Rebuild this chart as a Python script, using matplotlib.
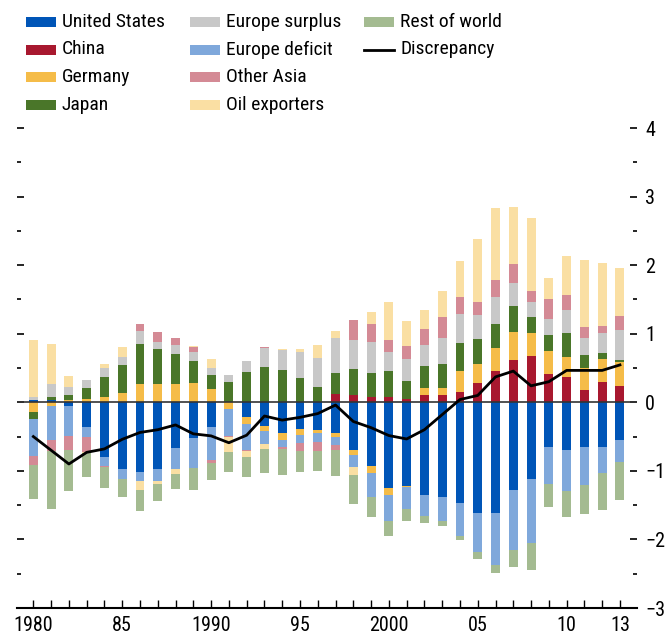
import matplotlib
matplotlib.use("Agg")
import matplotlib.pyplot as plt
import numpy as np
from matplotlib import font_manager
from matplotlib.patches import Rectangle
from matplotlib.lines import Line2D
from matplotlib.ticker import FixedLocator, MultipleLocator

# narrow font if there is one, otherwise Arial-like Liberation Sans a bit smaller
installed = {f.name for f in font_manager.fontManager.ttflist}
if 'Liberation Sans Narrow' in installed:
    plt.rcParams['font.family'] = ['Liberation Sans Narrow', 'DejaVu Sans']
    fs, fs_leg = 15, 14.5
elif 'Roboto Condensed' in installed:
    plt.rcParams['font.family'] = ['Roboto Condensed', 'DejaVu Sans']
    fs, fs_leg = 14.5, 14
else:
    plt.rcParams['font.family'] = ['Liberation Sans', 'DejaVu Sans']
    fs, fs_leg = 12, 11.5

years = list(range(1980, 2014))

united_states = [0.03, 0.04, -0.06, -0.355, -0.805, -0.98, -1.02, -0.98, -0.66, -0.515,
                 -0.355, 0.0, -0.21, -0.34, -0.455, -0.385, -0.41, -0.455, -0.70, -0.935,
                 -1.255, -1.215, -1.345, -1.375, -1.475, -1.61, -1.61, -1.275, -1.115, -0.65,
                 -0.695, -0.65, -0.65, -0.55]
china = [0, 0, 0, 0, 0, 0, 0, 0, 0, 0,
         0, 0, 0, 0, 0, 0, 0, 0.125, 0.10, 0.07,
         0.07, 0.055, 0.11, 0.11, 0.155, 0.28, 0.455, 0.615, 0.675, 0.41,
         0.37, 0.18, 0.295, 0.24]
germany = [-0.14, -0.05, 0.04, 0.045, 0.08, 0.14, 0.27, 0.27, 0.27, 0.285,
           0.20, -0.10, -0.10, -0.075, -0.10, -0.09, -0.045, -0.045, -0.065, -0.09,
           -0.10, -0.015, 0.10, 0.10, 0.305, 0.275, 0.335, 0.41, 0.335, 0.335,
           0.29, 0.32, 0.335, 0.35]
japan = [-0.10, 0.04, 0.07, 0.17, 0.29, 0.41, 0.58, 0.51, 0.44, 0.32,
         0.20, 0.30, 0.445, 0.52, 0.475, 0.36, 0.23, 0.305, 0.38, 0.35,
         0.39, 0.26, 0.32, 0.35, 0.41, 0.365, 0.35, 0.38, 0.235, 0.235,
         0.35, 0.19, 0.09, 0.03]
europe_surplus = [0.04, 0.19, 0.115, 0.115, 0.13, 0.115, 0.19, 0.10, 0.13, 0.135,
                  0.10, 0.10, 0.16, 0.275, 0.29, 0.38, 0.42, 0.51, 0.435, 0.465,
                  0.275, 0.32, 0.305, 0.38, 0.42, 0.35, 0.395, 0.335, 0.22, 0.235,
                  0.335, 0.25, 0.29, 0.435]
europe_deficit = [-0.55, -0.50, -0.43, -0.155, -0.13, -0.145, -0.13, -0.17, -0.32, -0.45,
                  -0.48, -0.385, -0.38, -0.19, -0.09, -0.115, -0.13, -0.13, -0.175, -0.35,
                  -0.38, -0.32, -0.32, -0.35, -0.48, -0.57, -0.76, -0.875, -0.93, -0.54,
                  -0.60, -0.555, -0.38, -0.32]
other_asia = [-0.12, -0.155, -0.20, -0.21, -0.015, 0.0, 0.10, 0.145, 0.10, 0.06,
              -0.045, -0.015, -0.015, 0.015, -0.03, -0.115, -0.13, -0.06, 0.29, 0.25,
              0.175, 0.19, 0.235, 0.305, 0.25, 0.19, 0.25, 0.275, 0.16, 0.29,
              0.22, 0.16, 0.10, 0.205]
oil_exporters = [0.84, 0.58, 0.16, -0.02, 0.06, 0.145, -0.13, -0.035, -0.06, 0.025,
                 0.13, -0.23, -0.09, -0.07, 0.015, 0.03, 0.19, 0.10, -0.115, 0.175,
                 0.555, 0.365, 0.275, 0.38, 0.525, 0.915, 1.05, 0.83, 1.065, 0.305,
                 0.57, 0.975, 0.92, 0.70]
rest_of_world = [-0.50, -0.85, -0.60, -0.345, -0.305, -0.25, -0.305, -0.25, -0.23, -0.32,
                 -0.26, -0.28, -0.29, -0.35, -0.38, -0.305, -0.29, -0.39, -0.435, -0.305,
                 -0.22, -0.175, -0.09, -0.075, -0.06, -0.10, -0.115, -0.25, -0.395, -0.335,
                 -0.38, -0.42, -0.54, -0.555]
discrepancy = [-0.50, -0.70, -0.90, -0.73, -0.68, -0.54, -0.44, -0.40, -0.33, -0.46,
               -0.49, -0.59, -0.48, -0.20, -0.26, -0.22, -0.165, -0.04, -0.28, -0.37,
               -0.485, -0.535, -0.40, -0.18, 0.04, 0.10, 0.37, 0.455, 0.24, 0.30,
               0.465, 0.465, 0.465, 0.545]

year_labels = {1980: '1980', 1985: '85', 1990: '1990', 1995: '95', 2000: '2000',
               2005: '05', 2010: '10', 2013: '13'}

# stacking order (bottom to top / top to bottom)
series = [
    ('United States', united_states, '#0055B7'),
    ('China', china, '#A8182F'),
    ('Germany', germany, '#F5BC48'),
    ('Japan', japan, '#4A7629'),
    ('Europe surplus', europe_surplus, '#C8C8C8'),
    ('Europe deficit', europe_deficit, '#7FA8DB'),
    ('Other Asia', other_asia, '#D48A95'),
    ('Oil exporters', oil_exporters, '#FADFA3'),
    ('Rest of world', rest_of_world, '#A4BB91'),
]

fig = plt.figure(figsize=(6.67, 6.39), dpi=100)
ax = fig.add_axes([17 / 667, 1 - 608 / 639, 620 / 667, 480 / 639])

x = np.array(years)
pos_base = np.zeros(len(years))
neg_base = np.zeros(len(years))
for name, vals, color in series:
    v = np.array(vals, dtype=float)
    bottom = np.where(v >= 0, pos_base, neg_base)
    ax.bar(x, v, bottom=bottom, width=0.5, color=color, linewidth=0, zorder=2)
    pos_base += np.where(v >= 0, v, 0)
    neg_base += np.where(v < 0, v, 0)

ax.axhline(0, color='#333333', lw=1.2, zorder=3)
ax.plot(x, discrepancy, color='black', lw=2.0, zorder=4)

ax.set_xlim(1979.08, 2013.96)
ax.set_ylim(-3, 4)

for s in ['left', 'right', 'top']:
    ax.spines[s].set_visible(False)
ax.spines['bottom'].set_linewidth(1.5)

ax.xaxis.set_major_locator(FixedLocator(years))
ax.set_xticklabels([year_labels.get(y, '') for y in years])
ax.tick_params(axis='x', direction='in', length=6, width=1, pad=6, labelsize=fs)

ax.yaxis.set_major_locator(MultipleLocator(1))
ax.yaxis.set_minor_locator(MultipleLocator(0.5))
ax.yaxis.set_major_formatter(lambda v, p: f'{int(v)}'.replace('-', '\u2212'))
ax.tick_params(axis='y', which='both', direction='in', left=True, right=True,
               labelleft=False, labelright=True, labelsize=fs, pad=6)
ax.tick_params(axis='y', which='major', length=5, width=1.2)
ax.tick_params(axis='y', which='minor', length=3, width=1.2)

# legend drawn as three columns
cols = [(26, ['United States', 'China', 'Germany', 'Japan']),
        (190, ['Europe surplus', 'Europe deficit', 'Other Asia', 'Oil exporters']),
        (364, ['Rest of world', 'Discrepancy'])]
colors = {name: c for name, _, c in series}
row_y = [22, 49.5, 77, 104.5]
W, H = 667, 639
for cx, names in cols:
    for i, name in enumerate(names):
        cy = row_y[i]
        if name == 'Discrepancy':
            fig.add_artist(Line2D([cx / W, (cx + 30) / W], [1 - cy / H, 1 - cy / H],
                                  color='black', lw=2.0))
        else:
            fig.add_artist(Rectangle((cx / W, 1 - (cy + 5) / H), 30 / W, 10 / H,
                                     color=colors[name], lw=0))
        fig.text((cx + 36) / W, 1 - cy / H, name, fontsize=fs_leg, va='center', ha='left')

fig.savefig('out.png', dpi=100)
